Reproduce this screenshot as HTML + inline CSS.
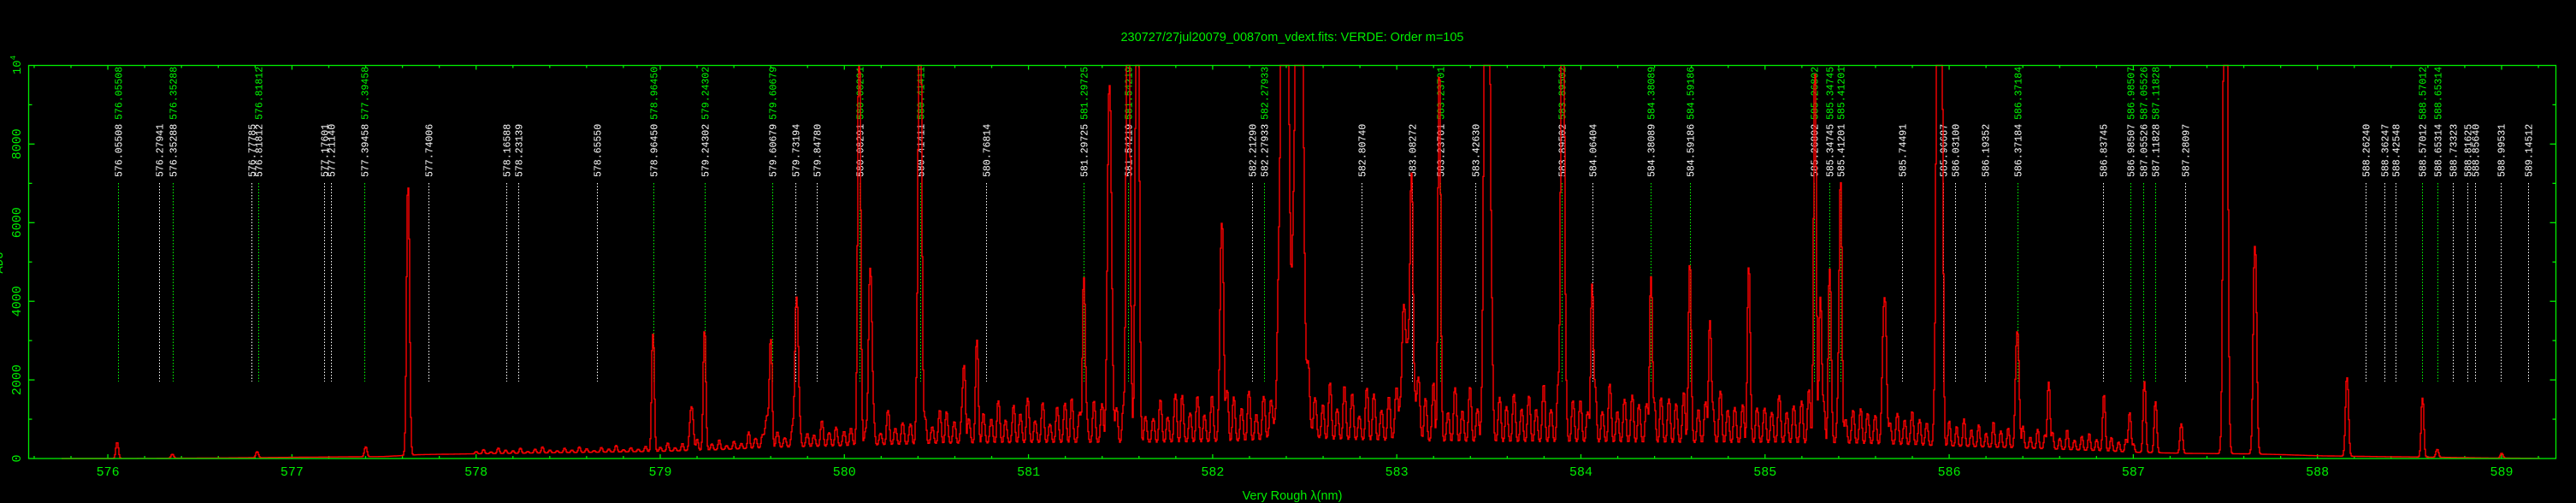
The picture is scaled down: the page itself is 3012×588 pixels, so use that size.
<!DOCTYPE html>
<html><head><meta charset="utf-8"><style>
html,body{margin:0;padding:0;background:#000;}
svg{display:block;}
</style></head><body>
<svg id="chart" xmlns="http://www.w3.org/2000/svg" width="3012" height="588" viewBox="0 0 3012 588">
<rect x="0" y="0" width="3012" height="588" fill="#000"/>
<text x="1511" y="48" fill="#00ee00" font-family="Liberation Sans, sans-serif" font-size="14.5" text-anchor="middle">230727/27jul20079_0087om_vdext.fits: VERDE: Order m=105</text>
<text x="1511" y="584" fill="#00ee00" font-family="Liberation Sans, sans-serif" font-size="14.5" text-anchor="middle">Very Rough λ(nm)</text>
<text transform="translate(3,307) rotate(-90)" fill="#00ee00" font-family="Liberation Mono, monospace" font-size="14" text-anchor="middle">ADU</text>
<text transform="translate(24,76) rotate(-90)" fill="#00ee00" font-family="Liberation Mono, monospace" font-size="14" text-anchor="middle">10<tspan font-size="9" dy="-6">4</tspan></text>
<g id="gTicks"></g>
<g id="gLines"></g>
<g id="gSpec"></g>
<rect x="33.5" y="76.5" width="2955" height="459.5" fill="none" stroke="#00ee00" stroke-width="1.3"/>
</svg>
<script>
// ---- data ----
const xTicks = [576,577,578,579,580,581,582,583,584,585,586,587,588,589];
const yTicks = [0,2000,4000,6000,8000];
const lineWavelengths = [576.05508,576.27941,576.35288,576.77785,576.81812,577.17601,577.21140,577.39458,577.74006,578.16588,578.23139,578.65550,578.96450,579.24302,579.60679,579.73194,579.84780,580.08291,580.41411,580.76814,581.29725,581.54219,582.21290,582.27933,582.80740,583.08272,583.23701,583.42630,583.89502,584.06404,584.38089,584.59186,585.26802,585.34745,585.41201,585.74491,585.96687,586.03100,586.19352,586.37184,586.83745,586.98507,587.05526,587.11828,587.28097,588.26240,588.36247,588.42548,588.57012,588.65314,588.73323,588.81625,588.85640,588.99531,589.14512];
const lineIsGreen = [1,0,1,0,1,0,0,1,0,0,0,0,1,1,1,0,0,1,1,0,1,1,0,1,0,0,1,0,1,0,1,1,1,1,1,0,0,0,0,1,0,1,1,1,0,0,0,0,1,1,0,0,0,0,0];
const peakWavelengths = [576.05,576.35,576.81,577.40,577.63,578.96,579.17,579.24,579.58,579.60,579.74,580.08,580.14,580.41,580.65,580.72,581.30,581.44,581.54,581.59,582.05,582.39,582.47,582.43,583.08,583.06,583.23,583.49,583.90,584.06,584.38,584.59,584.70,584.91,585.27,585.30,585.35,585.41,585.65,585.94,585.96,586.37,586.54,586.84,586.98,587.06,587.12,587.26,587.50,587.66,588.16,588.57,588.65,589.00];
const peakHeights = [400,100,150,250,6800,2900,1100,2900,800,2300,3800,9500,4500,13000,1900,1700,4200,8500,15000,15000,5500,20000,20000,2500,4000,2500,8600,20000,15000,4000,4200,3700,3100,3600,9000,3700,4000,6500,3600,20000,8000,2900,1700,1200,1000,1800,1300,750,20000,5300,2000,1500,200,120];
const peakWidths = [0.006,0.006,0.006,0.006,0.007,0.006,0.008,0.006,0.01,0.006,0.008,0.007,0.008,0.008,0.006,0.006,0.006,0.01,0.008,0.008,0.008,0.015,0.015,0.05,0.006,0.03,0.006,0.012,0.008,0.006,0.006,0.006,0.006,0.006,0.006,0.006,0.006,0.006,0.008,0.008,0.006,0.008,0.006,0.006,0.006,0.006,0.006,0.006,0.009,0.008,0.007,0.006,0.006,0.006];
const contWavelengths = [575.6,576.0,576.5,577.0,577.5,577.7,578.0,578.5,579.0,579.3,579.6,580.0,580.5,581.0,581.5,582.0,582.5,583.0,583.5,584.0,584.5,585.0,585.5,586.0,586.5,586.8,587.0,587.3,587.6,587.8,588.0,588.3,588.6,588.9,589.3];
const contFlux = [0,0,10,30,50,100,120,150,180,220,280,320,380,400,400,420,500,450,420,420,400,400,380,320,250,200,160,130,120,100,70,50,35,15,0];
const noiseStart = 578.0;
const noiseStep = 0.04;
const noiseHeights = [80,150,60,200,120,90,180,60,140,220,100,70,160,90,200,130,60,170,110,240,80,150,90,190,120,
150,300,120,260,180,400,160,220,350,140,280,190,600,250,170,420,300,180,500,260,380,150,700,330,210,
400,280,650,300,520,240,800,350,450,600,300,700,420,900,350,500,750,400,1100,380,600,850,300,1200,500,
700,400,950,350,600,1100,450,800,300,650,1200,500,900,400,700,1000,350,600,850,450,1300,500,750,1100,400,
900,600,1400,500,800,1200,600,1000,700,1500,800,1100,900,1600,700,1000,1400,600,900,1200,500,1300,800,700,1000,
1100,1500,900,1300,700,1800,1000,800,1200,600,1400,900,1100,700,1300,600,1000,900,1200,700,1500,800,1100,600,900,
1000,700,1200,600,1300,800,1000,1400,600,900,1100,700,1200,800,1500,600,900,1000,700,1300,800,600,1100,900,700,
900,600,1100,800,700,1200,1500,900,1000,700,1300,600,900,1100,700,800,1200,600,900,700,1000,800,600,1100,1300,
900,700,1000,600,800,500,900,600,700,500,800,400,700,500,600,400,700,350,500,600,400,300,500,350,450,
300];
const noise2Start = 579.513;
const noise2Step = 0.04;
const noise2Heights = [200,350,150,400,250,300,500,200,350,450,
300,600,250,500,700,350,450,300,800,400,550,300,900,450,350,600,1000,500,400,700,
600,900,500,1100,700,400,800,1300,600,900,500,1000,700,1400,600,800,1200,500,900,700,
1000,600,1300,800,500,1100,700,900,1500,600,1000,800,1200,500,900,1400,700,1100,600,1000,
800,1300,600,900,1600,700,1000,500,1200,800,1500,900,600,1100,1300,700,1000,800,1400,600,
900,1200,700,1000,500,1300,800,1100,600,900,1500,700,1000,1200,600,900,800,1100,700,1300,
600,1000,900,700,1200,800,1400,600,1000,700,1100,900,600,1300,800,1000,700,1200,600,900,
800,1100,700,1000,600,1200,900,700,800,1100,600,1000,700,900,500,800,600,700,500,600,
400,700,500,600,350,500,400,450,300,400];

// ---- axes ----
const X0=33.5, X1=2988.5, Y0=536, Y1=76.5;
const L0=575.57, L1=589.295, F1=10000;
function xs(l){return X0+(l-L0)/(L1-L0)*(X1-X0);}
function ys(f){return Y0-f/F1*(Y0-Y1);}
const NS='http://www.w3.org/2000/svg';
function mk(tag,attrs,parent){const e=document.createElementNS(NS,tag);for(const k in attrs)e.setAttribute(k,attrs[k]);parent.appendChild(e);return e;}
const G='#00ee00';
const gT=document.getElementById('gTicks');
for(let t=575.6;t<=589.3;t+=0.2){
  const l=Math.round(t*10)/10; const maj=Math.abs(l-Math.round(l))<1e-6; const x=xs(l); const len=maj?5:3;
  const a=mk('line',{x1:x,x2:x,y1:Y0,y2:Y0-len,stroke:G,'stroke-width':1.3},gT);
  
  
  const b=mk('line',{x1:x,x2:x,y1:Y1,y2:Y1+len,stroke:G,'stroke-width':1.3},gT);
  
  
}
xTicks.forEach(v=>{
  const t=mk('text',{x:xs(v),y:556,fill:G,'font-family':'Liberation Mono, monospace','font-size':15,'text-anchor':'middle'},gT);
  t.textContent=String(v);
  
  
});
for(let f=1000;f<10000;f+=1000){
  const y=ys(f); const len=(f%2000===0)?7:4;
  const a=mk('line',{x1:X0,x2:X0+len,y1:y,y2:y,stroke:G,'stroke-width':1.3},gT);
  
  
  const b=mk('line',{x1:X1,x2:X1-len,y1:y,y2:y,stroke:G,'stroke-width':1.3},gT);
  
  
}
yTicks.forEach(v=>{
  const t=mk('text',{transform:`translate(24,${ys(v)}) rotate(-90)`,fill:G,'font-family':'Liberation Mono, monospace','font-size':15,'text-anchor':'middle'},gT);
  t.textContent=String(v);
  
  
});
// ---- identified lines ----
const gL=document.getElementById('gLines');
lineWavelengths.forEach((w,i)=>{
  const x=Math.round(xs(w))+0.5; const green=lineIsGreen[i]===1; const col=green?'#00ff00':'#ffffff';
  const ln=mk('line',{x1:x,x2:x,y1:214,y2:446,stroke:col,'stroke-width':1.2,'stroke-dasharray':'1.5,2','shape-rendering':'crispEdges'},gL);
  
  
  const t=mk('text',{transform:`translate(${x+4},207) rotate(-90)`,fill:'#ffffff','font-family':'Liberation Mono, monospace','font-size':11.5},gL);
  t.textContent=w.toFixed(5);
  
  
  if(green){
    const t2=mk('text',{transform:`translate(${x+4},140) rotate(-90)`,fill:'#00ff00','font-family':'Liberation Mono, monospace','font-size':11.5},gL);
    t2.textContent=w.toFixed(5);
    
    
  }
});
// ---- spectrum ----
function cont(l){
  if(l<=contWavelengths[0])return contFlux[0];
  for(let i=1;i<contWavelengths.length;i++){if(l<=contWavelengths[i]){const a=contWavelengths[i-1],b=contWavelengths[i];return contFlux[i-1]+(contFlux[i]-contFlux[i-1])*(l-a)/(b-a);}}
  return contFlux[contFlux.length-1];
}
function flux(l){
  let f=cont(l);
  for(let i=0;i<peakWavelengths.length;i++){const d=(l-peakWavelengths[i])/peakWidths[i];if(Math.abs(d)<6)f+=peakHeights[i]*Math.exp(-0.5*d*d);}
  for(let i=0;i<noiseHeights.length;i++){const c=noiseStart+i*noiseStep;const d=(l-c)/0.005;if(Math.abs(d)<6)f+=noiseHeights[i]*0.7*Math.exp(-0.5*d*d);}
  for(let i=0;i<noise2Heights.length;i++){const c=noise2Start+i*noise2Step;const d=(l-c)/0.005;if(Math.abs(d)<6)f+=noise2Heights[i]*0.7*Math.exp(-0.5*d*d);}
  return f;
}
const gS=document.getElementById('gSpec');
let pts=[];
const start=xs(575.75), end=xs(589.2);
const dl=(L1-L0)/(X1-X0);
for(let px=Math.floor(start);px<=Math.ceil(end);px++){
  const l=L0+(px-X0)*dl;
  const f=Math.max(flux(l),flux(l+dl/3),flux(l+2*dl/3));
  let y=ys(f); if(y<Y1)y=Y1;
  pts.push(px+','+y.toFixed(1));
  pts.push((px+1)+','+y.toFixed(1));
}
const pl=mk('polyline',{points:pts.join(' '),fill:'none',stroke:'#ff0000','stroke-width':1.4},gS);


</script>
</body></html>
